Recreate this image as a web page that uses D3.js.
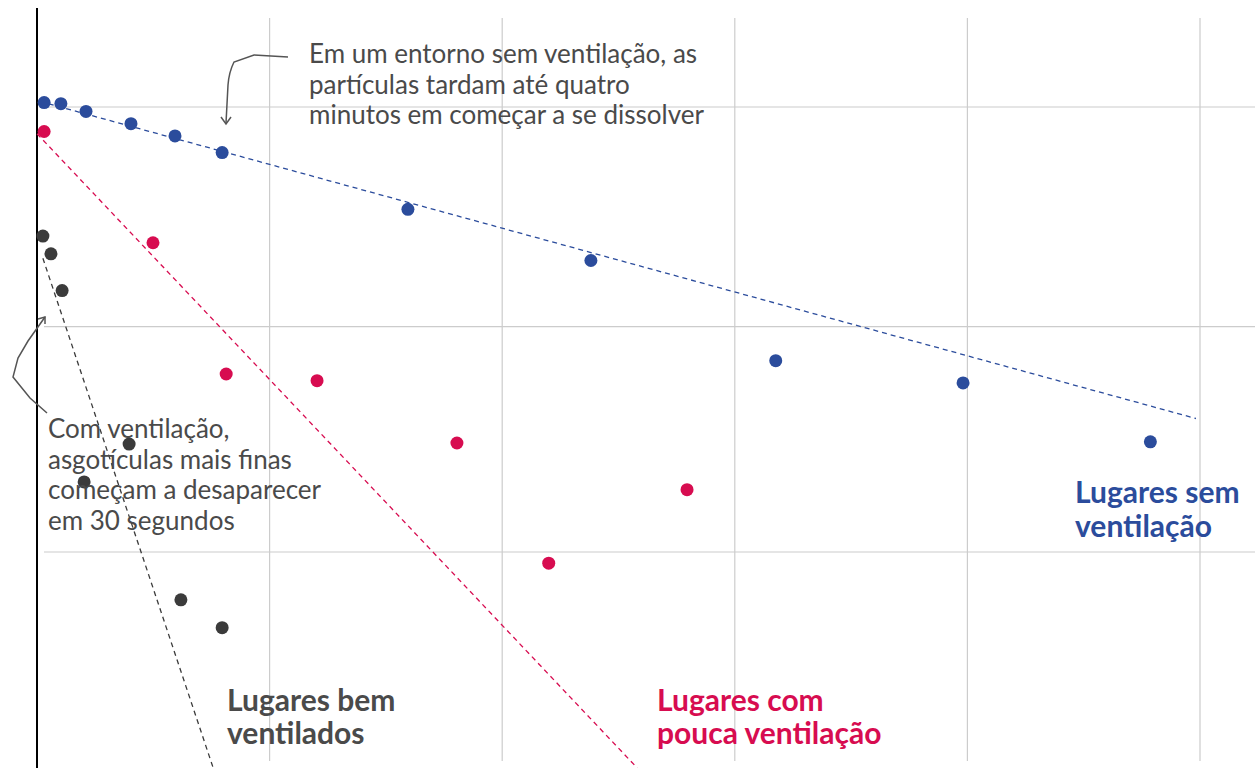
<!DOCTYPE html>
<html>
<head>
<meta charset="utf-8">
<script src="https://cdn.jsdelivr.net/npm/d3@7"></script>
<style>
  html, body { margin: 0; padding: 0; background: #fff; }
  svg { display: block; font-family: Lato, "Noto Sans", sans-serif; }
</style>
</head>
<body>
<svg id="chart" width="1255" height="768"></svg>
<script>
// ---- data (x: seconds, y: relative concentration) ----
const xTicks = [75, 150, 225, 300, 375];
const yTicks = [20, 40.25, 60];

const semX = [2.3, 7.7, 15.8, 30.3, 44.5, 59.7, 119.6, 178.6, 238.2, 298.6, 359];
const semY = [60.4, 60.3, 59.6, 58.5, 57.4, 55.9, 50.8, 46.2, 37.2, 35.2, 29.9];

const poucaX = [2.3, 37.4, 61, 90.3, 135.4, 165, 209.6];
const poucaY = [57.8, 47.8, 36.0, 35.4, 29.8, 19.0, 25.6];

const bemX = [1.9, 4.5, 8.1, 29.7, 15.2, 46.4, 59.7];
const bemY = [48.4, 46.8, 43.5, 29.7, 26.3, 15.7, 13.2];

const semTrendX = [1.0, 373.7];
const semTrendY = [60.5, 32.0];
const poucaTrendX = [0, 193.5];
const poucaTrendY = [57.6, 0.6];
const bemTrendX = [1.9, 56.8];
const bemTrendY = [46.4, 0.6];

const labelSem = ["Lugares sem", "ventilação"];
const labelPouca = ["Lugares com", "pouca ventilação"];
const labelBem = ["Lugares bem", "ventilados"];
const noteTop = ["Em um entorno sem ventilação, as", "partículas tardam até quatro", "minutos em começar a se dissolver"];
const noteLeft = ["Com ventilação,", "asgotículas mais finas", "começam a desaparecer", "em 30 segundos"];

// ---- styles ----
const BLUE = "#2b4c9c", PINK = "#d70c50", DARK = "#3b3b3b", TEXT = "#4a4a4a", GRID = "#cccccc";

const svg = d3.select("#chart");
const x = d3.scaleLinear().domain([0, 375]).range([37, 1200]);
const y = d3.scaleLinear().domain([20, 60]).range([552, 107]);

// grid
svg.append("g").selectAll("line").data(xTicks).join("line")
  .attr("x1", d => x(d)).attr("x2", d => x(d))
  .attr("y1", 18).attr("y2", 761)
  .attr("stroke", GRID).attr("stroke-width", 1.2);
svg.append("g").selectAll("line").data(yTicks).join("line")
  .attr("x1", 44).attr("x2", 1255)
  .attr("y1", d => y(d)).attr("y2", d => y(d))
  .attr("stroke", GRID).attr("stroke-width", 1.2);

// axis
svg.append("line").attr("x1", x(0)).attr("x2", x(0)).attr("y1", 8).attr("y2", 768)
  .attr("stroke", "#000").attr("stroke-width", 2);

// trend lines
const line = d3.line().x(d => x(d[0])).y(d => y(d[1]));
function trend(xs, ys, color) {
  svg.append("path").datum(xs.map((v, i) => [v, ys[i]]))
    .attr("d", line).attr("fill", "none").attr("stroke", color)
    .attr("stroke-width", 1.3).attr("stroke-dasharray", "5,4");
}
trend(semTrendX, semTrendY, BLUE);
trend(poucaTrendX, poucaTrendY, PINK);
trend(bemTrendX, bemTrendY, DARK);

// dots
function dots(xs, ys, color) {
  svg.append("g").selectAll("circle").data(xs.map((v, i) => [v, ys[i]])).join("circle")
    .attr("cx", d => x(d[0])).attr("cy", d => y(d[1])).attr("r", 6.5).attr("fill", color);
}
dots(semX, semY, BLUE);
dots(poucaX, poucaY, PINK);
dots(bemX, bemY, DARK);

// text blocks
function block(lines, px, py, lh, size, weight, color) {
  const t = svg.append("text").attr("x", px).attr("y", py)
    .attr("font-size", size).attr("font-weight", weight).attr("fill", color);
  lines.forEach((s, i) => t.append("tspan").attr("x", px).attr("dy", i ? lh : 0).text(s));
}
block(noteTop, 309, 63, 30.5, 26, 400, TEXT);
block(noteLeft, 48, 438, 30.5, 26, 400, TEXT);
block(labelBem, 227, 711, 33, 30, 700, TEXT);
block(labelPouca, 657, 711, 33, 30, 700, PINK);
block(labelSem, 1075, 503, 34, 30, 700, BLUE);

// annotation arrows
const ARROW = "#555";
svg.append("path")
  .attr("d", "M288,57 L254,55 L234,62 Q229,72 228,85 L226,123")
  .attr("fill", "none").attr("stroke", ARROW).attr("stroke-width", 1.5);
svg.append("path").attr("d", "M221,117 L226,124 L231,117")
  .attr("fill", "none").attr("stroke", ARROW).attr("stroke-width", 1.5);
svg.append("path")
  .attr("d", "M47,413 L30,398 L13,377 L18,358 L28,341 L45,317")
  .attr("fill", "none").attr("stroke", ARROW).attr("stroke-width", 1.5);
svg.append("path").attr("d", "M38,319 L45,317 L45,324")
  .attr("fill", "none").attr("stroke", ARROW).attr("stroke-width", 1.5);
</script>
</body>
</html>
